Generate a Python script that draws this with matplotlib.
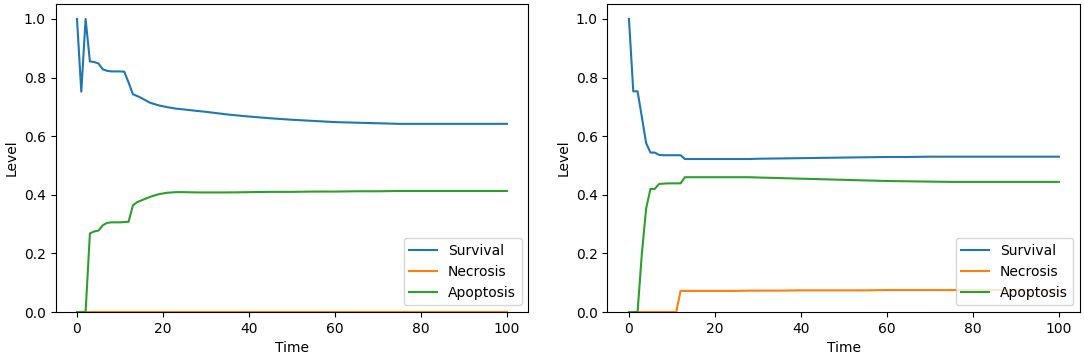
import numpy as np
import matplotlib
matplotlib.use("Agg")
import matplotlib.pyplot as plt

# time points (breakpoints of the piecewise-linear curves)
time = [0, 1, 2, 3, 4, 5, 6, 7, 8, 9, 10, 11, 12, 13, 14, 15, 17, 19, 21, 23, 25,
        28, 30, 35, 40, 45, 50, 55, 60, 65, 70, 75, 80, 85, 90, 95, 100]

# left panel
survival_a = [1.0, 0.752, 1.0, 0.855, 0.853, 0.848, 0.828, 0.823, 0.821, 0.821, 0.821,
              0.820, 0.783, 0.743, 0.737, 0.730, 0.714, 0.705, 0.699, 0.694, 0.691,
              0.686, 0.683, 0.674, 0.667, 0.661, 0.656, 0.652, 0.648, 0.646, 0.644,
              0.642, 0.642, 0.642, 0.642, 0.642, 0.642]
necrosis_a = [0.0] * 37
apoptosis_a = [0.0, 0.0, 0.0, 0.268, 0.275, 0.278, 0.296, 0.304, 0.306, 0.306, 0.306,
               0.307, 0.308, 0.364, 0.375, 0.381, 0.393, 0.402, 0.407, 0.409, 0.409,
               0.408, 0.408, 0.408, 0.409, 0.410, 0.410, 0.411, 0.411, 0.412, 0.412,
               0.413, 0.413, 0.413, 0.413, 0.413, 0.413]

# right panel
survival_b = [1.0, 0.753, 0.753, 0.665, 0.576, 0.544, 0.544, 0.536, 0.535, 0.535, 0.535,
              0.535, 0.535, 0.522, 0.522, 0.522, 0.522, 0.522, 0.522, 0.522, 0.522,
              0.522, 0.523, 0.524, 0.525, 0.526, 0.527, 0.528, 0.529, 0.529, 0.530,
              0.530, 0.530, 0.530, 0.530, 0.530, 0.530]
necrosis_b = [0.0, 0.0, 0.0, 0.0, 0.0, 0.0, 0.0, 0.0, 0.0, 0.0, 0.0,
              0.0, 0.072, 0.072, 0.072, 0.072, 0.072, 0.072, 0.072, 0.072, 0.072,
              0.073, 0.073, 0.073, 0.074, 0.074, 0.074, 0.074, 0.075, 0.075, 0.075,
              0.075, 0.075, 0.075, 0.075, 0.075, 0.075]
apoptosis_b = [0.0, 0.0, 0.0, 0.20, 0.354, 0.42, 0.42, 0.437, 0.438, 0.439, 0.439,
               0.439, 0.439, 0.460, 0.460, 0.460, 0.460, 0.460, 0.460, 0.460, 0.460,
               0.460, 0.459, 0.457, 0.455, 0.453, 0.451, 0.449, 0.447, 0.446, 0.445,
               0.444, 0.444, 0.444, 0.444, 0.444, 0.444]

labels = ["Survival", "Necrosis", "Apoptosis"]

fig = plt.figure(figsize=(10.84, 3.57), dpi=100)
ax1 = fig.add_axes([0.0512, 0.126, 0.4363, 0.862])
ax2 = fig.add_axes([0.5604, 0.126, 0.4363, 0.862])

for ax, series in [(ax1, [survival_a, necrosis_a, apoptosis_a]),
                   (ax2, [survival_b, necrosis_b, apoptosis_b])]:
    for vals, lab in zip(series, labels):
        ax.plot(time, vals, label=lab)
    ax.set_ylim(bottom=0)
    ax.set_xlabel("Time")
    ax.set_ylabel("Level")
    ax.legend(loc="lower right")

fig.savefig("out.png", dpi=100)
